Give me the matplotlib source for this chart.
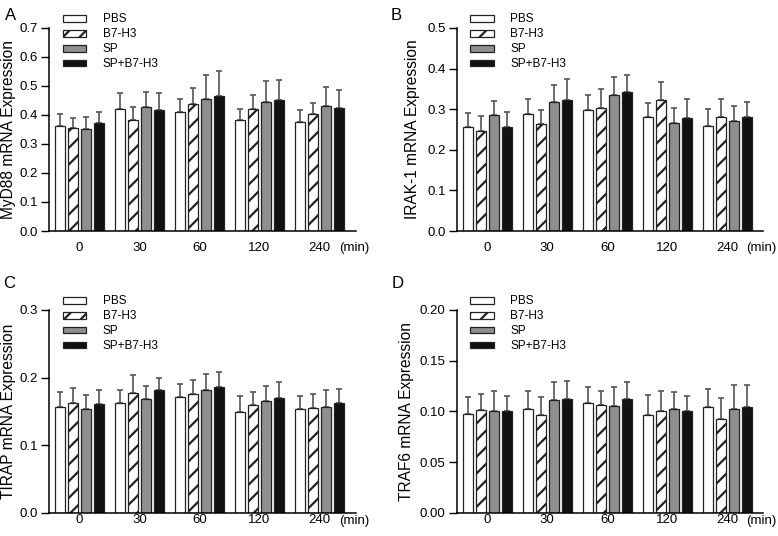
import numpy as np
import matplotlib
matplotlib.use('Agg')
import matplotlib.pyplot as plt
from matplotlib.patches import Patch

plt.rcParams['font.family'] = ['Liberation Sans', 'DejaVu Sans']
plt.rcParams['hatch.linewidth'] = 1.6

times = ['0', '30', '60', '120', '240']
groups = ['PBS', 'B7-H3', 'SP', 'SP+B7-H3']

# mean values per group (rows) and time point (columns)
myd88 = [[0.362, 0.420, 0.409, 0.382, 0.376],
         [0.356, 0.384, 0.438, 0.420, 0.402],
         [0.351, 0.428, 0.455, 0.445, 0.432],
         [0.371, 0.416, 0.465, 0.453, 0.425]]
myd88_err = [[0.040, 0.054, 0.047, 0.038, 0.040],
             [0.034, 0.043, 0.056, 0.048, 0.038],
             [0.043, 0.051, 0.082, 0.071, 0.063],
             [0.038, 0.060, 0.086, 0.069, 0.062]]

irak1 = [[0.255, 0.287, 0.297, 0.281, 0.259],
         [0.247, 0.263, 0.302, 0.322, 0.281],
         [0.285, 0.317, 0.335, 0.266, 0.271],
         [0.255, 0.322, 0.342, 0.278, 0.281]]
irak1_err = [[0.035, 0.037, 0.039, 0.035, 0.042],
             [0.037, 0.036, 0.047, 0.046, 0.043],
             [0.036, 0.042, 0.045, 0.038, 0.037],
             [0.037, 0.051, 0.043, 0.047, 0.036]]

tirap = [[0.157, 0.162, 0.171, 0.149, 0.153],
         [0.162, 0.177, 0.175, 0.159, 0.155],
         [0.153, 0.168, 0.181, 0.166, 0.157],
         [0.161, 0.181, 0.186, 0.170, 0.162]]
tirap_err = [[0.021, 0.020, 0.019, 0.023, 0.020],
             [0.022, 0.026, 0.022, 0.019, 0.020],
             [0.021, 0.019, 0.024, 0.021, 0.025],
             [0.020, 0.019, 0.022, 0.023, 0.021]]

traf6 = [[0.0975, 0.102, 0.108, 0.096, 0.1048],
         [0.101, 0.0965, 0.1058, 0.1005, 0.0926],
         [0.1005, 0.111, 0.105, 0.1025, 0.1025],
         [0.1005, 0.112, 0.112, 0.1005, 0.104]]
traf6_err = [[0.0165, 0.0185, 0.0158, 0.020, 0.0172],
             [0.016, 0.0175, 0.0142, 0.0195, 0.0201],
             [0.020, 0.0177, 0.019, 0.0165, 0.023],
             [0.015, 0.018, 0.0167, 0.015, 0.022]]

panels = [
    ('A', 'MyD88 mRNA Expression', myd88, myd88_err, 0.7, np.arange(0, 0.71, 0.1), '%.1f'),
    ('B', 'IRAK-1 mRNA Expression', irak1, irak1_err, 0.5, np.arange(0, 0.51, 0.1), '%.1f'),
    ('C', 'TIRAP mRNA Expression', tirap, tirap_err, 0.3, np.arange(0, 0.31, 0.1), '%.1f'),
    ('D', 'TRAF6 mRNA Expression', traf6, traf6_err, 0.2, np.arange(0, 0.201, 0.05), '%.2f'),
]

colors = ['white', 'white', '#8f8f8f', '#111111']
hatches = [None, '//', None, None]

fig = plt.figure(figsize=(7.78, 5.36), dpi=100)
positions = [(0.063, 0.569), (0.587, 0.569), (0.063, 0.043), (0.587, 0.043)]
letter_pos = [(0.006, 0.985), (0.502, 0.985), (0.004, 0.485), (0.504, 0.485)]
# distance of the x tick labels below the axis (pixels), top row vs bottom row
label_drop = [17, 17, 8, 8]
# centre of the y label, pixels left of the axis
ylab_off = [41, 44, 41, 50]
w, h = 0.394, 0.379

x = np.arange(len(times))
bw = 0.165
step = 0.218

for k, ((letter, ylab, vals, errs, ymax, yt, fmt), (l, b), lp) in enumerate(zip(panels, positions, letter_pos)):
    ax = fig.add_axes([l, b, w, h])
    for i in range(4):
        xi = x + (i - 1.5) * step
        ax.bar(xi, vals[i], bw, color=colors[i], edgecolor='#222222', linewidth=0.9,
               hatch=hatches[i], label=groups[i], zorder=2)
        ax.errorbar(xi, vals[i], yerr=[np.zeros(5), errs[i]], fmt='none',
                    ecolor='#555555', elinewidth=1.2, capsize=2.5, capthick=1.2, zorder=1)
    ax.set_xlim(-0.51, 4.6)
    ax.set_ylim(0, ymax)
    ax.set_yticks(yt)
    ax.set_yticklabels([fmt % v for v in yt])
    ax.set_xticks(x)
    ax.set_xticklabels(times)
    drop = label_drop[k]
    ax.tick_params(axis='x', length=0, pad=(drop - 6.5) / 1.389, labelsize=9.5)
    ax.tick_params(axis='y', length=6, width=1, labelsize=9.5, pad=2)
    for s in ['top', 'right']:
        ax.spines[s].set_visible(False)
    for s in ['left', 'bottom']:
        ax.spines[s].set_linewidth(1.1)
    ax.set_ylabel(ylab, fontsize=11.2, va='center')
    ax.yaxis.set_label_coords(-ylab_off[k] / 307.0, 0.5)
    ax.text(4.32, -drop / 203.0 * ymax, '(min)', fontsize=9.5, ha='left', va='center',
            transform=ax.transData, clip_on=False)
    handles = [Patch(facecolor=colors[i], edgecolor='#222222', hatch=hatches[i], linewidth=0.9)
               for i in range(4)]
    ax.legend(handles, groups, loc='upper left', bbox_to_anchor=(0.025, 1.1),
              frameon=False, fontsize=8.5, handlelength=2.0, handleheight=0.5,
              labelspacing=0.25, handletextpad=1.4, borderpad=0)
    fig.text(lp[0], lp[1], letter, fontsize=12, ha='left', va='top')

fig.savefig('out.png', dpi=100)
